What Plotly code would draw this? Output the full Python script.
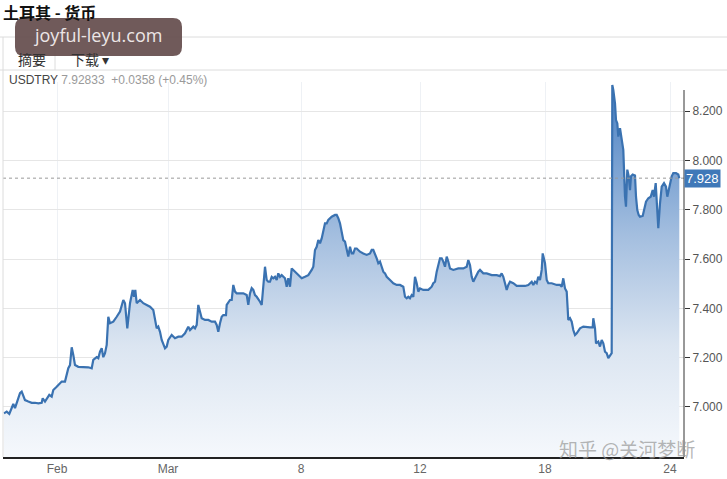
import plotly.graph_objects as go

# ---- data ----
# position along the compressed trading-time axis
pos = [4, 6.7, 9.3, 11.7, 13.3, 15, 16.7, 18.3, 20, 21.7, 23.3, 25, 28.3, 31.7, 35, 38.3, 41.7, 42.7, 45, 46.7,
       49.3, 51.7, 53.3, 56.7, 60, 61.7, 65, 66.7, 68.3, 70, 71.7, 73.3, 75, 78.3, 83.3, 88.3, 91.7, 93.3, 96.7, 98.3,
       100, 101.7, 103.3, 105, 106.7, 108.3, 110, 113.3, 116.7, 120, 123.3, 125, 127.3, 130, 132.7, 134, 135.3, 136.7, 140, 143.3,
       146.7, 150, 153.3, 155, 156.7, 158.3, 160, 161.7, 163.3, 165, 166.7, 168.3, 171.7, 175, 178.3, 181.7, 185, 188.3, 190, 193.3,
       195, 196.7, 198.3, 200, 201.7, 205, 208.3, 211.7, 215, 216.7, 218.3, 220, 221.7, 223.3, 226, 226.7, 228.3, 230, 231.7, 233.3,
       235, 236.7, 240, 243.3, 246.7, 248.3, 250, 251.7, 253.3, 255, 256.7, 258.3, 260, 261.7, 263.3, 265, 266.7, 268.3, 270, 271.7,
       273.3, 275, 276.7, 278.3, 280, 281.7, 285, 286.7, 288.3, 290, 291.7, 295, 298.3, 301.7, 305, 308.3, 311.7, 313.3, 315, 316.7,
       318.3, 320, 321.7, 323.3, 325, 326.7, 328.3, 331.7, 335, 336.7, 338.3, 340, 341.7, 343.3, 345, 346.7, 348.3, 350, 351.7, 353.3,
       355, 356.7, 360, 363.3, 366.7, 370, 371.7, 373.3, 375, 376.7, 378.3, 380, 381.7, 383.3, 385, 386.7, 390, 393.3, 396.7, 400,
       403.3, 405, 406.7, 408.3, 410, 411.7, 413.3, 415, 416.7, 418.3, 420, 423.3, 428.3, 431.7, 433.3, 435, 436.7, 438.3, 440, 441.7,
       443.3, 445, 446.7, 448.3, 450, 453.3, 458.3, 463.3, 466.7, 468.3, 470, 471.7, 473.3, 475, 478.3, 480, 483.3, 486.7, 491.7, 496.7,
       500, 501.7, 503.3, 505, 506.7, 508.3, 510, 513.3, 516.7, 520, 525, 528.3, 531.7, 533.3, 535, 536.7, 538.3, 540, 541.7, 542.7,
       544, 545, 546.7, 548.3, 551.7, 556.7, 560, 561.7, 563.3, 565, 566.7, 568.3, 570, 571.7, 573.3, 575, 576.7, 580, 583.3, 586.7,
       590, 592.7, 593.3, 595, 596, 598.3, 600, 601.7, 603.3, 605, 606.7, 608.3, 610, 611.7, 612.3, 613.3, 615, 616, 617.3, 618.3,
       620, 621.7, 623.3, 625, 626, 627.3, 628.7, 630, 631, 632.7, 635, 636, 637.3, 638.7, 640, 642.7, 644, 646, 648.3, 650.7,
       652.7, 654, 655.7, 657.3, 658.3, 660, 661.7, 664, 666, 667.3, 669.3, 671.7, 673.3, 676, 678.3, 679.3]
# USD/TRY rate
rate = [6.974, 6.981, 6.972, 7.001, 7.012, 6.995, 7.015, 7.028, 7.056, 7.062, 7.042, 7.028, 7.022, 7.017, 7.017, 7.015, 7.017, 7.035, 7.022, 7.035,
        7.049, 7.042, 7.069, 7.082, 7.096, 7.103, 7.103, 7.137, 7.157, 7.170, 7.242, 7.211, 7.170, 7.163, 7.163, 7.161, 7.157, 7.191, 7.202, 7.198,
        7.224, 7.238, 7.202, 7.218, 7.252, 7.366, 7.340, 7.346, 7.366, 7.387, 7.434, 7.421, 7.319, 7.421, 7.475, 7.447, 7.475, 7.421, 7.434, 7.421,
        7.414, 7.407, 7.393, 7.353, 7.319, 7.326, 7.305, 7.272, 7.252, 7.238, 7.245, 7.272, 7.292, 7.279, 7.285, 7.285, 7.299, 7.326, 7.312, 7.326,
        7.319, 7.333, 7.414, 7.387, 7.360, 7.353, 7.353, 7.346, 7.346, 7.333, 7.305, 7.340, 7.366, 7.373, 7.373, 7.414, 7.427, 7.434, 7.434, 7.495,
        7.468, 7.461, 7.461, 7.461, 7.454, 7.414, 7.461, 7.482, 7.475, 7.454, 7.447, 7.434, 7.427, 7.414, 7.502, 7.569, 7.515, 7.508, 7.508, 7.528,
        7.522, 7.528, 7.515, 7.542, 7.528, 7.535, 7.522, 7.488, 7.522, 7.488, 7.562, 7.549, 7.535, 7.522, 7.528, 7.535, 7.556, 7.569, 7.637, 7.650,
        7.677, 7.664, 7.684, 7.711, 7.745, 7.745, 7.759, 7.772, 7.779, 7.779, 7.766, 7.745, 7.705, 7.677, 7.671, 7.643, 7.610, 7.650, 7.623, 7.623,
        7.643, 7.643, 7.630, 7.623, 7.617, 7.623, 7.637, 7.637, 7.623, 7.603, 7.583, 7.590, 7.569, 7.549, 7.542, 7.528, 7.515, 7.502, 7.495, 7.495,
        7.488, 7.447, 7.441, 7.447, 7.441, 7.454, 7.447, 7.528, 7.502, 7.468, 7.481, 7.475, 7.475, 7.488, 7.502, 7.508, 7.549, 7.576, 7.603, 7.603,
        7.590, 7.569, 7.610, 7.590, 7.562, 7.556, 7.562, 7.562, 7.569, 7.596, 7.576, 7.528, 7.508, 7.522, 7.549, 7.556, 7.542, 7.542, 7.535, 7.535,
        7.531, 7.542, 7.528, 7.502, 7.475, 7.495, 7.508, 7.502, 7.491, 7.491, 7.491, 7.495, 7.508, 7.495, 7.508, 7.502, 7.528, 7.515, 7.556, 7.623,
        7.596, 7.583, 7.515, 7.502, 7.502, 7.495, 7.495, 7.488, 7.522, 7.481, 7.468, 7.353, 7.360, 7.346, 7.312, 7.292, 7.299, 7.319, 7.326, 7.323,
        7.323, 7.323, 7.360, 7.319, 7.258, 7.265, 7.245, 7.272, 7.258, 7.224, 7.218, 7.198, 7.211, 7.218, 8.306, 8.286, 8.232, 8.164, 8.151, 8.097,
        8.131, 8.083, 8.043, 7.853, 7.813, 7.963, 7.936, 7.880, 7.936, 7.943, 7.939, 7.853, 7.799, 7.779, 7.772, 7.775, 7.799, 7.833, 7.847, 7.853,
        7.880, 7.853, 7.908, 7.786, 7.725, 7.826, 7.894, 7.908, 7.894, 7.853, 7.894, 7.936, 7.949, 7.949, 7.943, 7.928]

tick_pos = [57, 168, 301, 420, 545, 670]
tick_text = ["Feb", "Mar", "8", "12", "18", "24"]
y_ticks = [7.0, 7.2, 7.4, 7.6, 7.8, 8.0, 8.2]
symbol = "USDTRY"
last_price = 7.92833
change = 0.0358
change_pct = 0.45

# ---- layout geometry (pixels) ----
W, H = 727, 479
L, R, T, B = 3, 684, 82, 457


def px(x):
    return (x - L) / (R - L)


def py(y):
    return (B - y) / (B - T)


def rrect(x0, y0, x1, y1, r):
    pts = [
        ("M", [(x0 + r, y0)]), ("L", [(x1 - r, y0)]), ("Q", [(x1, y0), (x1, y0 + r)]),
        ("L", [(x1, y1 - r)]), ("Q", [(x1, y1), (x1 - r, y1)]), ("L", [(x0 + r, y1)]),
        ("Q", [(x0, y1), (x0, y1 - r)]), ("L", [(x0, y0 + r)]), ("Q", [(x0, y0), (x0 + r, y0)]),
    ]
    s = ""
    for cmd, ps in pts:
        s += cmd + " " + " ".join(f"{px(a):.5f},{py(b):.5f}" for a, b in ps) + " "
    return s + "Z"


fig = go.Figure()
fig.add_trace(go.Scatter(
    x=pos, y=rate, mode="lines",
    line=dict(color="#3a72b1", width=2.2),
    fill="tozeroy",
    fillgradient=dict(type="vertical",
                      colorscale=[[0, "#f5f8fc"], [0.3, "#dbe5f1"], [0.6, "#a3bedf"], [1, "#4a80c2"]],
                      start=6.8, stop=8.3),
    hoverinfo="skip", showlegend=False,
))

cjk = "Noto Sans CJK SC"
lat = "Liberation Sans, Arial, sans-serif"

shapes = [
    # current price dotted line
    dict(type="line", xref="paper", yref="y", x0=0, x1=1, y0=last_price, y1=last_price,
         line=dict(color="#9a9a9a", width=1, dash="dot"), layer="above"),
    # header separators
    dict(type="line", xref="paper", yref="paper", x0=px(0), x1=px(W), y0=py(37), y1=py(37),
         line=dict(color="#dcdcdc", width=1)),
    dict(type="line", xref="paper", yref="paper", x0=px(0), x1=px(W), y0=py(70), y1=py(70),
         line=dict(color="#dcdcdc", width=1)),
    dict(type="line", xref="paper", yref="paper", x0=px(55), x1=px(55), y0=py(37), y1=py(70),
         line=dict(color="#dcdcdc", width=1)),
    dict(type="line", xref="paper", yref="paper", x0=px(3), x1=px(3), y0=py(37), y1=py(457),
         line=dict(color="#dcdcdc", width=1)),
    # right axis line (starts a little below the plot top)
    dict(type="line", xref="paper", yref="paper", x0=1, x1=1, y0=py(90), y1=0,
         line=dict(color="#333", width=1), layer="above"),
    # watermark rounded box
    dict(type="path", xref="paper", yref="paper", path=rrect(15, 18, 182, 56, 9),
         fillcolor="rgba(96,72,72,0.9)", line=dict(width=0), layer="above"),
]

annotations = [
    dict(text="<b>土耳其 - 货币</b>", xref="paper", yref="paper", x=px(2), y=py(11.5),
         xanchor="left", yanchor="middle", showarrow=False, borderpad=0,
         font=dict(family=cjk, size=16, color="#111")),
    dict(text="摘要", xref="paper", yref="paper", x=px(17), y=py(58.5),
         xanchor="left", yanchor="middle", showarrow=False, borderpad=0,
         font=dict(family=cjk, size=14, color="#333")),
    dict(text="下载 ▾", xref="paper", yref="paper", x=px(70), y=py(58.5),
         xanchor="left", yanchor="middle", showarrow=False, borderpad=0,
         font=dict(family=cjk, size=14, color="#333")),
    dict(text=f"{symbol} <span style='color:#9a9a9a'>{last_price:.5f}  +{change:.4f} (+{change_pct:.2f}%)</span>",
         xref="paper", yref="paper", x=px(7), y=py(80),
         xanchor="left", yanchor="middle", showarrow=False,
         font=dict(family=lat, size=12, color="#444")),
    # watermark text
    dict(text="joyful-leyu.com", xref="paper", yref="paper", x=px(98), y=py(35.5),
         xanchor="center", yanchor="middle", showarrow=False, borderpad=0,
         font=dict(family="Open Sans, DejaVu Sans", size=18, color="#ece6e6")),
    # current price tag
    dict(text=f"{last_price:.3f}", xref="paper", yref="y", x=1, y=last_price,
         xanchor="left", yanchor="middle", showarrow=False,
         bgcolor="#3f78b8", borderpad=1,
         font=dict(family=lat, size=13, color="white")),
    # bottom-right watermark
    dict(text="知乎 @关河梦断", xref="paper", yref="paper", x=px(627), y=py(448),
         xanchor="center", yanchor="middle", showarrow=False,
         font=dict(family=cjk, size=19, color="rgba(150,150,150,0.7)")),
]

fig.update_layout(
    width=W, height=H,
    margin=dict(l=L, r=W - R, t=T, b=H - B, pad=0),
    paper_bgcolor="white", plot_bgcolor="white",
    showlegend=False,
    shapes=shapes, annotations=annotations,
    xaxis=dict(range=[L, R], tickvals=tick_pos, ticktext=tick_text,
               showgrid=True, gridcolor="#eef1f5", gridwidth=1,
               showline=True, linecolor="#222", linewidth=1.5,
               ticks="", zeroline=False,
               tickfont=dict(family=lat, size=12, color="#666"), fixedrange=True),
    yaxis=dict(range=[6.797, 8.3185], side="right", tickvals=y_ticks,
               ticktext=[f"{v:.3f}" for v in y_ticks],
               showgrid=True, gridcolor="#e6e6e6", gridwidth=1,
               showline=False,
               ticks="outside", ticklen=5, tickcolor="#333",
               zeroline=False,
               tickfont=dict(family=lat, size=12, color="#555"), fixedrange=True),
)

fig.write_html("out.html")
